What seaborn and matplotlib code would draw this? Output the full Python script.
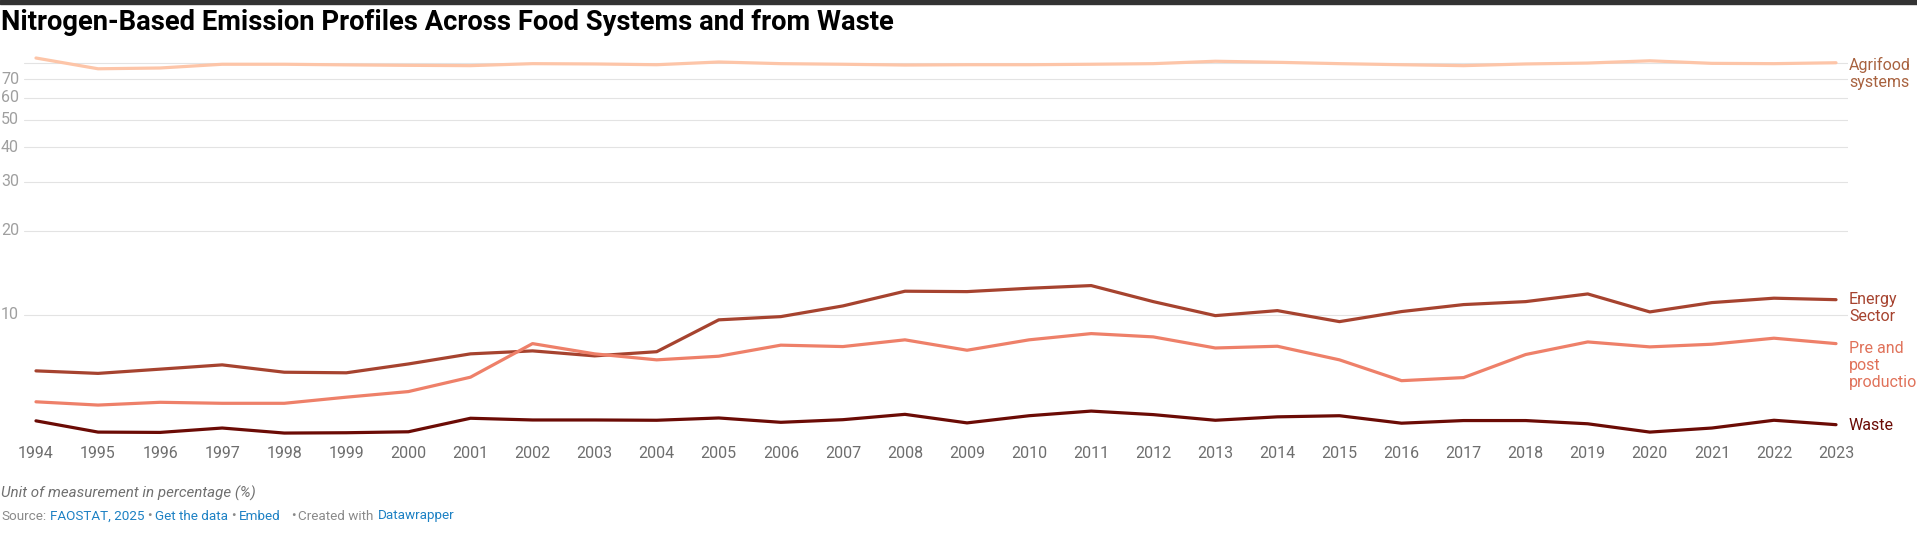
import numpy as np
import pandas as pd
import seaborn as sns
import matplotlib.pyplot as plt
from matplotlib import transforms
from matplotlib.ticker import NullLocator

# Values (share in %)
years = list(range(1994, 2024))
agrifood = [83.4, 76.3, 76.8, 79.2, 79.2, 78.8, 78.5, 78.3, 79.6, 79.4,
            78.9, 80.7, 79.6, 79.2, 78.7, 78.9, 78.9, 79.2, 79.6, 81.2,
            80.5, 79.6, 78.9, 78.3, 79.4, 80.0, 81.5, 79.8, 79.6, 80.2]
energy = [6.30, 6.17, 6.39, 6.62, 6.23, 6.20, 6.67, 7.25, 7.43, 7.13,
          7.38, 9.60, 9.86, 10.77, 12.16, 12.12, 12.46, 12.74, 11.16, 9.94,
          10.36, 9.46, 10.28, 10.89, 11.16, 11.89, 10.25, 11.07, 11.48, 11.34]
pre_post = [4.88, 4.75, 4.86, 4.82, 4.82, 5.07, 5.31, 5.98, 7.89, 7.25,
            6.90, 7.11, 7.79, 7.70, 8.14, 7.47, 8.14, 8.57, 8.34, 7.61,
            7.72, 6.90, 5.81, 5.96, 7.21, 8.00, 7.68, 7.85, 8.25, 7.89]
waste = [4.17, 3.80, 3.79, 3.93, 3.77, 3.78, 3.81, 4.26, 4.20, 4.20,
         4.19, 4.27, 4.12, 4.21, 4.40, 4.10, 4.35, 4.52, 4.39, 4.19,
         4.31, 4.35, 4.09, 4.18, 4.18, 4.07, 3.80, 3.93, 4.19, 4.04]

series_names = ["Agrifood systems", "Energy Sector", "Pre and post production", "Waste"]
end_labels = ["Agrifood\nsystems", "Energy\nSector", "Pre and\npost\nproduction", "Waste"]
line_colors = ["#fdc5a8", "#a6432f", "#ee8069", "#6b0b05"]
label_colors = ["#a8623f", "#a6432f", "#e0725a", "#6b0b05"]
# small vertical nudges (px) for end labels, as the reference spreads them apart
label_nudge = [-3, -1, -6, -2]
y_labels = [10, 20, 30, 40, 50, 60, 70]
grid_levels = [10, 20, 30, 40, 50, 60, 70, 80]

df = pd.DataFrame({
    "year": years * 4,
    "value": agrifood + energy + pre_post + waste,
    "series": sum([[n] * len(years) for n in series_names], []),
})

sns.set_theme(style="white")
plt.rcParams["font.family"] = ["Roboto", "DejaVu Sans"]

W, H = 1917, 545
fig = plt.figure(figsize=(W / 100, H / 100), dpi=100)
ax = fig.add_axes([24 / W, 1 - 440 / H, (1848 - 24) / W, (440 - 50) / H])

for lvl in grid_levels:
    ax.axhline(lvl, color="#e3e3e3", lw=0.8, zorder=0)

sns.lineplot(data=df, x="year", y="value", hue="series", hue_order=series_names,
             palette=dict(zip(series_names, line_colors)), linewidth=2.3,
             legend=False, ax=ax, zorder=3)

ax.set_yscale("log")
ax.set_ylim(3.56, 89.1)
ax.set_xlim(1993.807, 2023.193)
ax.yaxis.set_minor_locator(NullLocator())
ax.set_yticks([])
ax.set_xticks(years)
ax.set_xticklabels([str(y) for y in years])
ax.tick_params(axis="x", length=0, pad=4, labelsize=11.5, labelcolor="#6e6e6e")
ax.set_xlabel("")
ax.set_ylabel("")
for s in ax.spines.values():
    s.set_visible(False)
ax.patch.set_alpha(0)

# y labels at left edge, centred on gridlines
ytrans = transforms.blended_transform_factory(fig.transFigure, ax.transData)
for v in y_labels:
    ax.text(1 / W, v, str(v), transform=ytrans, ha="left", va="center",
            fontsize=11.5, color="#9f9f9f")

# line end labels, first line centred on the last value
series_vals = [agrifood, energy, pre_post, waste]
for vals, lab, col, dy in zip(series_vals, end_labels, label_colors, label_nudge):
    tr = ytrans + transforms.ScaledTranslation(0, (9 + dy) / 100, fig.dpi_scale_trans)
    ax.text(1849 / W, vals[-1], lab, transform=tr, ha="left", va="top",
            fontsize=11.5, color=col, linespacing=1.17, clip_on=False)

# top bar and title
fig.patches.append(plt.Rectangle((0, 1 - 4 / H), 1, 4 / H, transform=fig.transFigure,
                                 color="#333333", zorder=5))
fig.text(1 / W, 1 - 22 / H, "Nitrogen-Based Emission Profiles Across Food Systems and from Waste",
         ha="left", va="center", fontsize=19.7, fontweight="bold", color="#000000")

# footer
fig.text(1 / W, 1 - 493 / H, "Unit of measurement in percentage (%)", ha="left", va="center",
         fontsize=10.9, style="italic", color="#707070")

grey, blue = "#8a8a8a", "#1d81c4"
parts = [("Source:", grey, 4), ("FAOSTAT, 2025", blue, 3), ("•", grey, 3),
         ("Get the data", blue, 3), ("•", grey, 3), ("Embed", blue, 10),
         ("•", grey, 3), ("Created with", grey, 4), ("Datawrapper", blue, 0)]
fig.canvas.draw()
renderer = fig.canvas.get_renderer()
x = 1
for txt, col, gap in parts:
    t = fig.text(x / W, 1 - 516 / H, txt, ha="left", va="center", fontsize=9.7, color=col)
    x += t.get_window_extent(renderer=renderer).width + gap

fig.savefig("out.png", dpi=100, facecolor="white")
